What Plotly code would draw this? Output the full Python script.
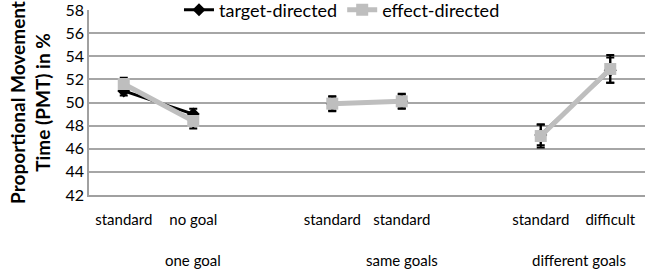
import plotly.graph_objects as go

x_pos = [1, 2, 3, 4, 5, 6, 7, 8]
tick_labels = ["standard", "no goal", "", "standard", "standard", "", "standard", "difficult"]
group_labels = ["one goal", "same goals", "different goals"]
group_pos = [2.0, 5.0, 7.55]

target_vals = [51.0, 49.0, None, 49.9, 50.1, None, 47.2, 52.8]
target_err = [0.4, 0.45, 0, 0.6, 0.6, 0, 0.9, 1.1]
effect_vals = [51.6, 48.4, None, 49.9, 50.1, None, 47.1, 52.9]
effect_err = [0.55, 0.65, 0, 0.65, 0.65, 0, 1.0, 1.2]

font = "Lato, Open Sans, sans-serif"

fig = go.Figure()
fig.add_trace(go.Scatter(
    x=x_pos, y=target_vals, name="target-directed", mode="lines+markers",
    line=dict(color="black", width=3),
    marker=dict(symbol="diamond", size=10, color="black"),
    error_y=dict(type="data", array=target_err, color="black", thickness=2, width=4),
    connectgaps=False,
))
fig.add_trace(go.Scatter(
    x=x_pos, y=effect_vals, name="effect-directed", mode="lines+markers",
    line=dict(color="#BEBEBE", width=5),
    marker=dict(symbol="square", size=12, color="#BEBEBE"),
    error_y=dict(type="data", array=effect_err, color="black", thickness=2, width=4),
    connectgaps=False,
))

for lab, p in zip(group_labels, group_pos):
    fig.add_annotation(x=p, y=-0.35, xref="x", yref="paper", text=lab,
                       showarrow=False, font=dict(size=15, color="black", family=font),
                       yanchor="middle")

fig.update_layout(
    width=650, height=274,
    margin=dict(l=89, r=5, t=10, b=79, autoexpand=False),
    paper_bgcolor="white", plot_bgcolor="white",
    font=dict(family=font, color="black"),
    showlegend=True,
    legend=dict(orientation="h", x=0.455, xanchor="center", y=1.0, yanchor="middle",
                font=dict(size=18, family=font), bgcolor="white",
                itemwidth=30, tracegroupgap=0),
    xaxis=dict(range=[0.5, 8.5], tickvals=x_pos, ticktext=tick_labels,
               showgrid=False, zeroline=False, showline=True, linecolor="#A0A0A0",
               linewidth=1.5, ticks="", tickfont=dict(size=15, family=font),
               ticklabelstandoff=10, automargin=False, ticklabeloverflow="allow"),
    yaxis=dict(range=[42, 58], dtick=2, showgrid=True, gridcolor="#A6A6A6", gridwidth=1.5,
               zeroline=False, showline=True, linecolor="#A0A0A0", linewidth=1.5,
               ticks="", tickfont=dict(size=16, family=font), automargin=False,
               ticklabeloverflow="allow",
               title=dict(text="<b>Proportional Movement<br>Time (PMT) in %</b>",
                          font=dict(size=19, family=font), standoff=10)),
)

fig.write_html("out.html", config={"displayModeBar": False},
               post_script="document.body.style.margin='0';")
